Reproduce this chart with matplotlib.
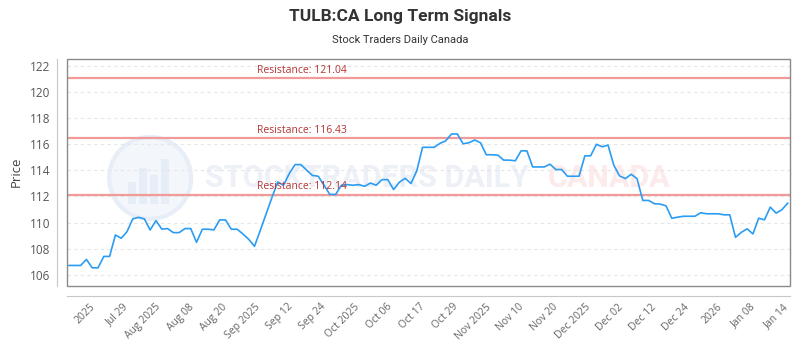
import numpy as np
import matplotlib
matplotlib.use("Agg")
import matplotlib.pyplot as plt
from matplotlib import font_manager
from matplotlib.patches import Ellipse, Rectangle

# daily closing prices
prices = [
    106.72, 106.72, 106.72, 107.18, 106.54, 106.54, 107.41, 107.41, 109.05, 108.80,
    109.30, 110.28, 110.40, 110.28, 109.43, 110.15, 109.50, 109.54, 109.23, 109.23,
    109.54, 109.54, 108.49, 109.49, 109.49, 109.44, 110.20, 110.20, 109.49, 109.49,
    109.13, 108.72, 108.18, 109.40, 110.65, 111.90, 113.10, 112.85, 113.74, 114.43,
    114.43, 114.00, 113.60, 113.54, 112.85, 112.15, 112.15, 112.85, 112.90, 112.85,
    112.90, 112.77, 113.02, 112.85, 113.28, 113.28, 112.52, 113.08, 113.38, 112.98,
    113.95, 115.75, 115.75, 115.75, 116.05, 116.25, 116.77, 116.77, 116.02, 116.10,
    116.31, 116.10, 115.18, 115.18, 115.15, 114.77, 114.77, 114.72, 115.48, 115.48,
    114.25, 114.25, 114.25, 114.46, 114.05, 114.05, 113.54, 113.54, 113.54, 115.10,
    115.10, 115.98, 115.79, 115.92, 114.38, 113.56, 113.36, 113.69, 113.36, 111.69,
    111.69, 111.44, 111.41, 111.28, 110.33, 110.41, 110.48, 110.48, 110.48, 110.75,
    110.67, 110.67, 110.67, 110.59, 110.59, 108.87, 109.25, 109.52, 109.13, 110.33,
    110.21, 111.18, 110.72, 110.98, 111.48,
]

tick_labels = [
    "2025", "Jul 29", "Aug 2025", "Aug 08", "Aug 20", "Sep 2025", "Sep 12", "Sep 24",
    "Oct 2025", "Oct 06", "Oct 17", "Oct 29", "Nov 2025", "Nov 10", "Nov 20",
    "Dec 2025", "Dec 02", "Dec 12", "Dec 24", "2026", "Jan 08", "Jan 14",
]

resistance_levels = [121.04, 116.43, 112.14]

installed = {f.name for f in font_manager.fontManager.ttflist}
narrow = "Liberation Sans Narrow" if "Liberation Sans Narrow" in installed else "Roboto"
plt.rcParams["font.family"] = ["Open Sans", "DejaVu Sans"]

fig = plt.figure(figsize=(8, 3.5), dpi=100)
ax = fig.add_axes([67 / 800, 64 / 350, 723 / 800, 227 / 350])

# spines first: set_position resets the tick objects
for side in ["top", "right"]:
    ax.spines[side].set_visible(False)
for side in ["left", "bottom"]:
    ax.spines[side].set_position(("outward", 7.2))
    ax.spines[side].set_color("#c8c8c8")
ax.add_patch(Rectangle((0, 0), 1, 1, transform=ax.transAxes, fill=False,
                       edgecolor="#8a8a8a", lw=1, zorder=7, clip_on=False))

x = np.arange(len(prices))
ax.plot(x, prices, color="#2b9cf2", lw=1.2, zorder=5)

for lvl in resistance_levels:
    ax.axhline(lvl, color="#f09a9a", lw=1.6, zorder=3)
    ax.annotate(f"Resistance: {lvl:.2f}", xy=(0.263, lvl), xycoords=ax.get_yaxis_transform(),
                xytext=(0, 1.5), textcoords="offset points", va="bottom", ha="left",
                fontsize=7.5, color="#b53535", zorder=6)

# faint watermark
ax.add_patch(Ellipse((0.115, 0.476), 82 / 723, 82 / 227, transform=ax.transAxes,
                     facecolor="#f3f6fb", edgecolor="#e8eef7", lw=3, zorder=1))
for bx, bh in [(0.085, 0.10), (0.100, 0.16), (0.115, 0.13), (0.130, 0.20)]:
    ax.add_patch(Rectangle((bx, 0.36), 0.011, bh, transform=ax.transAxes,
                           facecolor="#e6edf6", edgecolor="none", zorder=1))
ax.text(0.191, 0.476, "STOCKTRADERS DAILY", transform=ax.transAxes, va="center", ha="left",
        fontsize=22, fontweight="bold", color="#edf1f7", family=narrow, zorder=1)
ax.text(0.665, 0.476, "CANADA", transform=ax.transAxes, va="center", ha="left",
        fontsize=22, fontweight="bold", color="#fdeaea", family=narrow, zorder=1)

ax.set_xlim(-0.35, 124.4)
ax.set_ylim(105.15, 122.5)
ax.set_yticks(np.arange(106, 123, 2))
ax.tick_params(axis="both", length=0)
ax.tick_params(axis="x", pad=4, labelsize=7.5, colors="#666666", labelrotation=45)
ax.tick_params(axis="y", pad=5, labelsize=8.5, colors="#555555")
ax.set_xticks(np.linspace(3.5, 123.2, len(tick_labels)))
ax.set_xticklabels(tick_labels)
for lab in ax.get_xticklabels():
    lab.set_ha("right")
    lab.set_va("top")
    lab.set_rotation_mode("anchor")
ax.grid(axis="y", ls=(0, (3, 3)), color="#e6e6e6", lw=0.8, zorder=0)

fig.text(0.5, 1 - 16 / 350, "TULB:CA Long Term Signals", ha="center", va="center",
         fontsize=12.5, fontweight="bold", color="#333333", family=narrow)
fig.text(0.5, 1 - 40 / 350, "Stock Traders Daily Canada", ha="center", va="center",
         fontsize=8, color="#333333", family=narrow)
fig.text(16 / 800, 1 - 172 / 350, "Price", rotation=90, ha="center", va="center",
         fontsize=9.5, color="#444444")

fig.savefig("out.png", dpi=100)
